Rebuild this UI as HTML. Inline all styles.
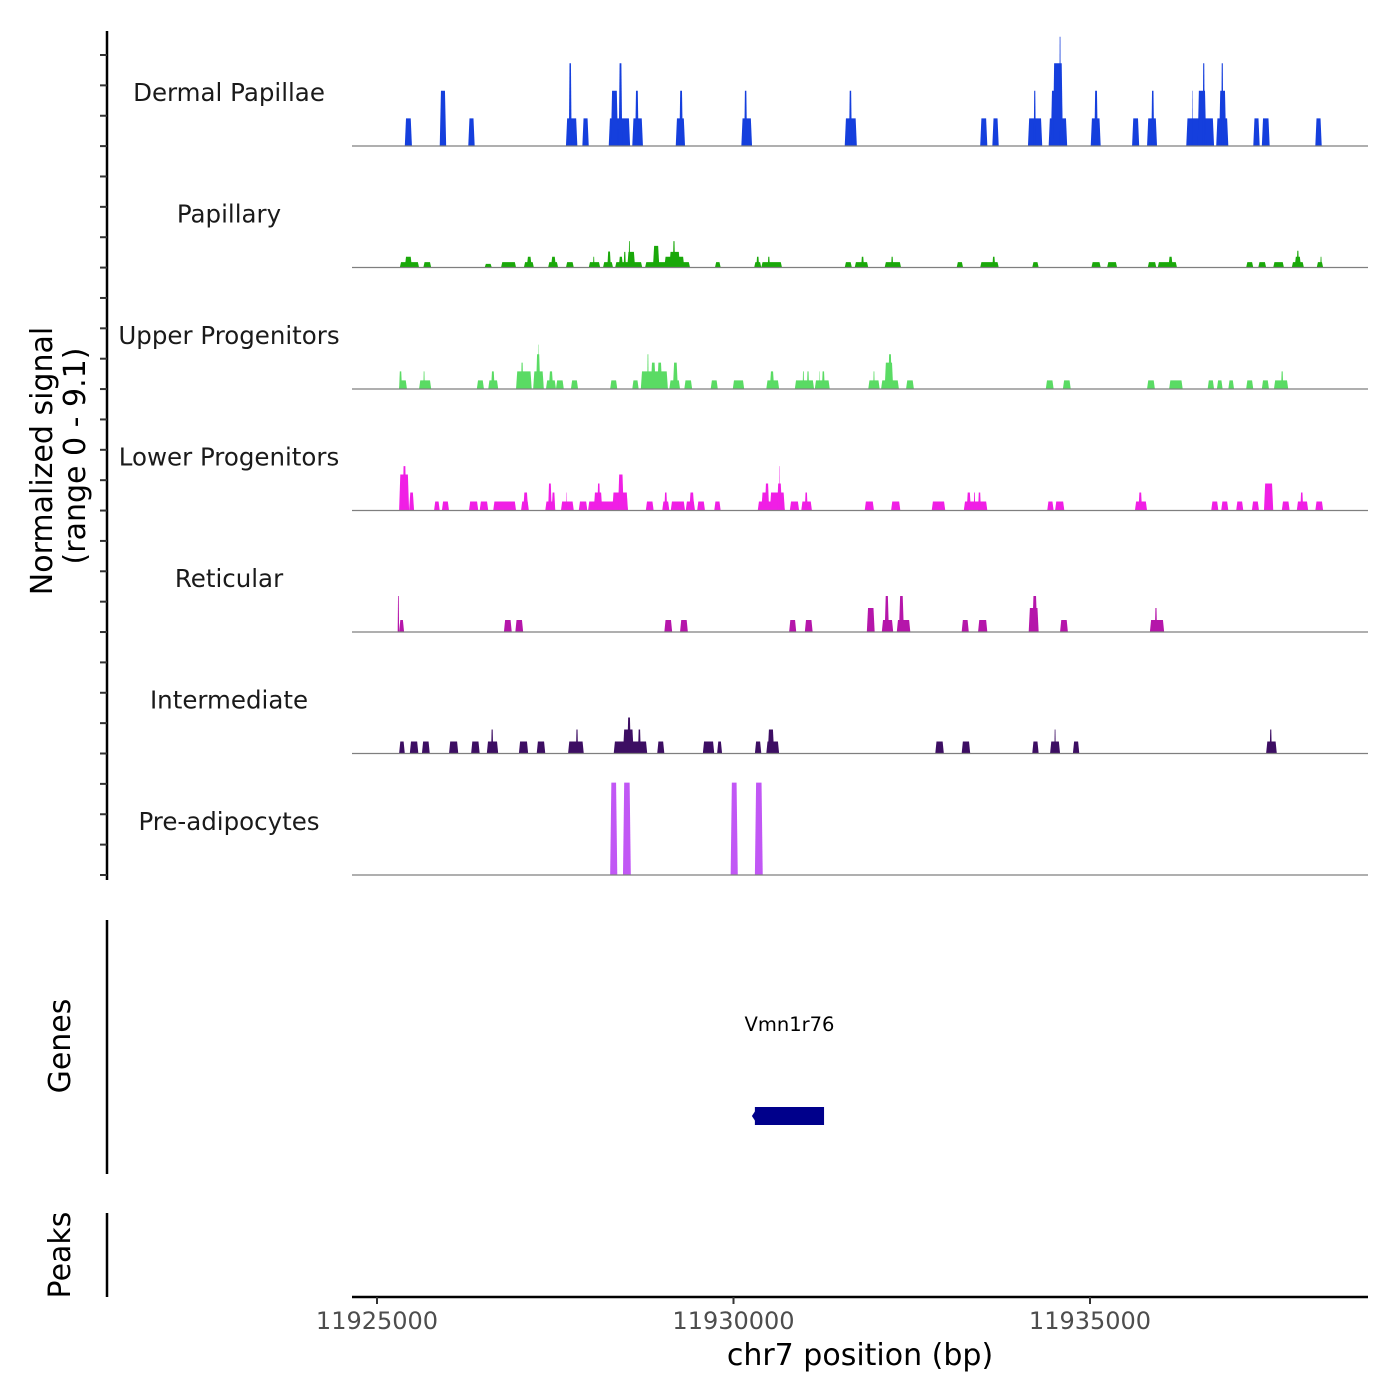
<!DOCTYPE html>
<html><head><meta charset="utf-8"><style>
html,body{margin:0;padding:0;background:#fff;}
svg{display:block;font-family:"DejaVu Sans","Liberation Sans",sans-serif;}
</style></head><body>
<svg id="chart" width="1400" height="1400" viewBox="0 0 1400 1400" xmlns="http://www.w3.org/2000/svg">
<g id="tracks"></g>
<g id="yaxis"><line x1="107" y1="31" x2="107" y2="880" stroke="#000" stroke-width="2.5"/></g>
<text transform="translate(52,461) rotate(-90)" text-anchor="middle" font-size="30">Normalized signal</text>
<text transform="translate(85,456) rotate(-90)" text-anchor="middle" font-size="30">(range 0 - 9.1)</text>
<line x1="107" y1="920" x2="107" y2="1174" stroke="#000" stroke-width="2.5"/>
<text transform="translate(70,1046) rotate(-90)" text-anchor="middle" font-size="30">Genes</text>
<line x1="107" y1="1213" x2="107" y2="1297" stroke="#000" stroke-width="2.5"/>
<text transform="translate(70,1255) rotate(-90)" text-anchor="middle" font-size="30">Peaks</text>
<g id="genes"></g>
<g id="xaxis"><line x1="352" y1="1297" x2="1368" y2="1297" stroke="#000" stroke-width="2.5"/></g>
<text x="860" y="1365" text-anchor="middle" font-size="30">chr7 position (bp)</text>
</svg>
<script>
const NS="http://www.w3.org/2000/svg";
const trackNames=["Dermal Papillae","Papillary","Upper Progenitors","Lower Progenitors","Reticular","Intermediate","Pre-adipocytes"];
const trackColors=["#153fdd","#1aa80a","#5adb64","#f01fe5","#b516aa","#3d0e63","#c157f5"];
// blocks: [start kb offset from 11925000, end kb, signal]
const dermal=[[0.39,0.49,2.3],[0.88,0.97,4.6],[1.28,1.37,2.3],[2.65,2.81,2.3],[2.69,2.73,6.9],[2.88,2.97,2.3],[3.25,3.55,2.3],[3.28,3.38,4.6],[3.39,3.44,6.9],[3.58,3.73,2.3],[3.62,3.67,4.6],[4.19,4.32,2.3],[4.24,4.29,4.6],[5.11,5.26,2.3],[5.15,5.19,4.6],[6.56,6.73,2.3],[6.62,6.66,4.6],[8.46,8.56,2.3],[8.63,8.72,2.3],[9.13,9.33,2.3],[9.21,9.24,4.6],[9.42,9.68,2.3],[9.45,9.62,4.6],[9.48,9.62,6.9],[9.57,9.59,9.1],[10.01,10.15,2.3],[10.06,10.11,4.6],[10.59,10.69,2.3],[10.80,10.94,2.3],[10.86,10.90,4.6],[11.35,11.74,2.3],[11.43,11.44,4.6],[11.51,11.63,4.6],[11.58,11.61,6.9],[11.77,11.94,2.3],[11.81,11.91,4.6],[11.84,11.87,6.9],[12.29,12.38,2.3],[12.41,12.52,2.3],[13.16,13.25,2.3]];
const papillary=[[0.32,0.59,0.45],[0.39,0.49,0.9],[0.65,0.76,0.45],[1.51,1.61,0.3],[1.74,1.95,0.45],[2.06,2.20,0.45],[2.10,2.17,0.9],[2.40,2.54,0.45],[2.44,2.51,0.9],[2.65,2.76,0.45],[2.97,3.13,0.45],[3.03,3.05,0.9],[3.17,3.31,0.45],[3.23,3.28,1.33],[3.34,3.72,0.45],[3.39,3.45,0.9],[3.46,3.49,1.3],[3.51,3.62,1.3],[3.53,3.55,2.2],[3.76,4.39,0.45],[3.87,3.96,1.8],[4.03,4.31,0.9],[4.10,4.25,1.3],[4.15,4.18,2.2],[4.74,4.82,0.45],[5.29,5.39,0.45],[5.32,5.36,0.9],[5.39,5.68,0.45],[5.48,5.51,0.9],[6.56,6.66,0.45],[6.70,6.89,0.45],[6.79,6.83,0.9],[7.12,7.35,0.45],[7.21,7.24,0.9],[8.13,8.22,0.45],[8.46,8.72,0.45],[8.63,8.67,0.9],[9.19,9.28,0.45],[10.02,10.15,0.45],[10.24,10.38,0.45],[10.81,10.93,0.45],[10.95,11.22,0.45],[11.10,11.16,0.9],[12.19,12.29,0.45],[12.36,12.47,0.45],[12.57,12.72,0.45],[12.83,13.00,0.45],[12.87,12.96,0.9],[12.90,12.93,1.4],[13.18,13.27,0.45],[13.23,13.25,0.9]];
const upperProg=[[0.31,0.42,0.72],[0.31,0.35,1.47],[0.59,0.76,0.72],[0.65,0.67,1.47],[1.40,1.50,0.72],[1.56,1.70,0.72],[1.60,1.65,1.47],[1.95,2.17,1.47],[2.02,2.05,2.2],[2.19,2.34,1.47],[2.23,2.29,2.9],[2.26,2.27,3.7],[2.37,2.51,0.72],[2.41,2.47,1.47],[2.51,2.62,0.72],[2.72,2.82,0.72],[3.27,3.37,0.72],[3.58,3.67,0.72],[3.70,4.08,1.47],[3.79,3.81,2.9],[3.84,3.91,2.2],[3.93,4.00,2.2],[4.10,4.25,0.72],[4.15,4.22,2.2],[4.31,4.42,0.72],[4.68,4.78,0.72],[4.99,5.15,0.72],[5.46,5.64,0.72],[5.51,5.57,1.47],[5.86,6.13,0.72],[5.97,5.99,1.47],[6.03,6.06,1.47],[6.14,6.35,0.72],[6.20,6.21,1.47],[6.24,6.28,1.47],[6.89,7.05,0.72],[6.96,6.98,1.47],[7.07,7.32,0.72],[7.12,7.24,2.2],[7.17,7.22,2.9],[7.42,7.53,0.72],[9.38,9.49,0.72],[9.62,9.73,0.72],[10.80,10.91,0.72],[11.11,11.30,0.72],[11.65,11.74,0.72],[11.78,11.86,0.72],[11.94,12.02,0.72],[12.19,12.29,0.72],[12.41,12.51,0.72],[12.58,12.78,0.72],[12.68,12.71,1.47]];
const lowerProg=[[0.31,0.45,3.0],[0.36,0.41,3.7],[0.45,0.52,1.5],[0.80,0.88,0.75],[0.91,1.01,0.75],[1.29,1.42,0.75],[1.44,1.56,0.75],[1.63,1.95,0.75],[2.02,2.13,0.75],[2.05,2.12,1.5],[2.36,2.50,0.75],[2.40,2.45,2.25],[2.45,2.50,1.5],[2.58,2.76,0.75],[2.65,2.66,1.5],[2.83,2.95,0.75],[2.96,3.52,0.75],[3.04,3.16,1.5],[3.09,3.13,2.25],[3.30,3.52,1.5],[3.38,3.46,3.0],[3.77,3.88,0.75],[4.00,4.10,0.75],[4.03,4.07,1.5],[4.12,4.32,0.75],[4.33,4.46,0.75],[4.38,4.45,1.5],[4.49,4.60,0.75],[4.73,4.82,0.75],[5.34,5.72,0.75],[5.39,5.50,1.5],[5.44,5.50,2.25],[5.51,5.72,1.5],[5.61,5.68,2.25],[5.64,5.65,3.7],[5.79,5.92,0.75],[5.95,6.10,0.75],[6.00,6.04,1.5],[6.84,6.97,0.75],[7.21,7.34,0.75],[7.78,7.97,0.75],[8.23,8.56,0.75],[8.27,8.33,1.5],[8.37,8.39,1.5],[8.43,8.47,1.5],[9.40,9.49,0.75],[9.51,9.64,0.75],[10.63,10.80,0.75],[10.68,10.73,1.5],[11.70,11.80,0.75],[11.84,11.94,0.75],[12.05,12.15,0.75],[12.27,12.37,0.75],[12.44,12.57,2.25],[12.69,12.80,0.75],[12.90,13.06,0.75],[12.95,12.99,1.5],[13.16,13.27,0.75]];
const reticular=[[0.29,0.31,3],[0.31,0.38,1],[1.78,1.89,1],[1.94,2.05,1],[4.03,4.14,1],[4.25,4.36,1],[5.78,5.88,1],[6.00,6.11,1],[6.87,6.98,2],[7.08,7.24,1],[7.12,7.18,3],[7.29,7.48,1],[7.32,7.39,3],[8.20,8.30,1],[8.43,8.56,1],[9.14,9.28,2],[9.19,9.26,3],[9.58,9.69,1],[10.84,11.04,1],[10.91,10.94,2]];
const intermediate=[[0.31,0.39,1],[0.46,0.58,1],[0.63,0.74,1],[1.01,1.14,1],[1.32,1.44,1],[1.54,1.70,1],[1.60,1.63,2],[1.99,2.12,1],[2.24,2.36,1],[2.68,2.90,1],[2.79,2.82,2],[3.32,3.79,1],[3.45,3.60,2],[3.51,3.56,3],[3.66,3.70,2],[3.93,4.03,1],[4.57,4.73,1],[4.77,4.84,1],[5.30,5.39,1],[5.46,5.64,1],[5.48,5.57,2],[7.83,7.95,1],[8.20,8.32,1],[9.19,9.28,1],[9.44,9.58,1],[9.50,9.52,2],[9.76,9.85,1],[12.47,12.62,1],[12.52,12.55,2]];
const preAdipo=[[3.27,3.37,7.7],[3.45,3.56,7.7],[4.96,5.06,7.7],[5.30,5.41,7.7]];
const trackData=[dermal,papillary,upperProg,lowerProg,reticular,intermediate,preAdipo];
const xTicks=[11925000,11930000,11935000];
const geneName="Vmn1r76";
const geneStart=11930300, geneEnd=11931270;

const X0=377, PXKB=71.3;
function xKb(kb){return X0+kb*PXKB;}
function xBp(bp){return X0+(bp-11925000)/1000*PXKB;}
function yVal(base,v){return base-v*12;}

const tracks=document.getElementById('tracks');
trackNames.forEach((name,i)=>{
  const base=146+i*121.5;
  const g=document.createElementNS(NS,'g');
  
  
  trackData[i].forEach(b=>{
    const x1=xKb(b[0]),x2=xKb(b[1]),yt=yVal(base,b[2]);
    const w=x2-x1, inset=Math.min(1.2,w*0.25);
    const p=document.createElementNS(NS,'polygon');
    p.setAttribute('points',`${x1},${base} ${x1+inset},${yt} ${x2-inset},${yt} ${x2},${base}`);
    p.setAttribute('fill',trackColors[i]);
    
    
    g.appendChild(p);
  });
  const ln=document.createElementNS(NS,'line');
  ln.setAttribute('x1',352);ln.setAttribute('x2',1368);ln.setAttribute('y1',base);ln.setAttribute('y2',base);
  ln.setAttribute('stroke','#7f7f7f');ln.setAttribute('stroke-width','1.2');
  
  
  g.appendChild(ln);
  const t=document.createElementNS(NS,'text');
  t.setAttribute('x',229);t.setAttribute('y',base-45);t.setAttribute('text-anchor','middle');
  t.setAttribute('font-size','24.5');t.setAttribute('fill','#1a1a1a');
  t.textContent=name;
  
  
  g.appendChild(t);
  tracks.appendChild(g);
});
const ya=document.getElementById('yaxis');
for(let k=0;k<28;k++){
  const y=55+k*30.37;
  if(y>878)break;
  const tk=document.createElementNS(NS,'line');
  tk.setAttribute('x1',100);tk.setAttribute('x2',107);tk.setAttribute('y1',y);tk.setAttribute('y2',y);
  tk.setAttribute('stroke','#333');tk.setAttribute('stroke-width','2');
  
  
  ya.appendChild(tk);
}
const xa=document.getElementById('xaxis');
xTicks.forEach(v=>{
  const x=xBp(v);
  const tk=document.createElementNS(NS,'line');
  tk.setAttribute('x1',x);tk.setAttribute('x2',x);tk.setAttribute('y1',1297);tk.setAttribute('y2',1304);
  tk.setAttribute('stroke','#333');tk.setAttribute('stroke-width','2');
  
  
  xa.appendChild(tk);
  const t=document.createElementNS(NS,'text');
  t.setAttribute('x',x);t.setAttribute('y',1329);t.setAttribute('text-anchor','middle');
  t.setAttribute('font-size','24');t.setAttribute('fill','#4d4d4d');
  t.textContent=String(v);
  
  
  xa.appendChild(t);
});
const gg=document.getElementById('genes');
const gx1=xBp(geneStart),gx2=xBp(geneEnd);
const r=document.createElementNS(NS,'rect');
r.setAttribute('x',gx1);r.setAttribute('y',1107);r.setAttribute('width',gx2-gx1);r.setAttribute('height',18);r.setAttribute('fill','#00008b');


gg.appendChild(r);
const ar=document.createElementNS(NS,'polygon');
ar.setAttribute('points',`${gx1-3},1116 ${gx1+1},1110 ${gx1+1},1122`);ar.setAttribute('fill','#00008b');


gg.appendChild(ar);
const gl=document.createElementNS(NS,'text');
gl.setAttribute('x',(gx1+gx2)/2);gl.setAttribute('y',1031);gl.setAttribute('text-anchor','middle');gl.setAttribute('font-size','19.5');
gl.textContent=geneName;


gg.appendChild(gl);
</script>
</body></html>
